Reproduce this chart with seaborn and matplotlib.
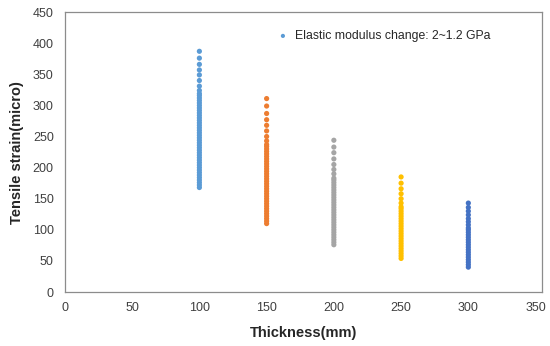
import matplotlib
matplotlib.use("Agg")
import matplotlib.pyplot as plt
import pandas as pd
import seaborn as sns

sns.set_theme(style="white")
plt.rcParams["font.family"] = ["Liberation Sans", "DejaVu Sans"]

# strain, one list per slab thickness (mm)
strain_100 = [168, 172, 176, 180, 184, 188, 192, 196, 200, 204, 208, 212, 216, 220,
              224, 228, 232, 236, 240, 244, 248, 252, 256, 260, 264, 268, 272, 276,
              280, 284, 288, 292, 296, 300, 304, 308, 312, 316, 319,
              324, 331, 340, 349, 357, 366, 376, 387]
strain_150 = [110, 114, 118, 122, 126, 130, 134, 138, 142, 146, 150, 154, 158, 162,
              166, 170, 174, 178, 182, 186, 190, 194, 198, 202, 206, 210, 214, 218,
              222, 226, 230, 234, 237,
              243, 250, 259, 268, 277, 287, 299, 311]
strain_200 = [76, 80, 84, 88, 92, 96, 100, 104, 108, 112, 116, 120, 124, 128, 132,
              136, 140, 144, 148, 152, 156, 160, 164, 168, 172, 176, 180,
              183, 190, 197, 205, 214, 224, 233, 244]
strain_250 = [54, 58, 62, 66, 70, 74, 78, 82, 86, 90, 94, 98, 102, 106, 110, 114,
              118, 122, 126, 130, 134,
              137, 143, 150, 158, 166, 175, 185]
strain_300 = [40, 44, 48, 52, 56, 60, 64, 68, 72, 76, 80, 84, 88, 92, 96, 100, 103,
              108, 113, 118, 124, 130, 136, 143]

thickness = [100, 150, 200, 250, 300]
colors = ["#5B9BD5", "#ED7D31", "#A5A5A5", "#FFC000", "#4472C4"]
series = [strain_100, strain_150, strain_200, strain_250, strain_300]

fig = plt.figure(figsize=(5.5, 3.46), dpi=100)
ax = fig.add_axes([0.118, 0.156, 0.868, 0.809])

for t, c, s in zip(thickness, colors, series):
    df = pd.DataFrame({"thickness": [t] * len(s), "strain": s})
    sns.scatterplot(data=df, x="thickness", y="strain", color=c, s=14,
                    edgecolor="none", ax=ax,
                    label="Elastic modulus change: 2~1.2 GPa" if t == 100 else None)

ax.set_xlim(0, 355)
ax.set_ylim(0, 450)
ax.set_xticks(range(0, 351, 50))
ax.set_yticks(range(0, 451, 50))
ax.tick_params(labelsize=9, colors="#404040", length=0)
ax.tick_params(axis="y", pad=8)
ax.tick_params(axis="x", pad=7)
for sp in ax.spines.values():
    sp.set_color("#8c8c8c")
    sp.set_linewidth(0.9)
ax.set_xlabel("Thickness(mm)", fontsize=10.5, fontweight="bold", labelpad=9)
ax.set_ylabel("Tensile strain(micro)", fontsize=10.5, fontweight="bold", labelpad=6)
ax.legend(loc="upper left", bbox_to_anchor=(0.408, 0.975), frameon=False,
          fontsize=8.8, handletextpad=0.0, markerscale=0.8)

fig.savefig("out.png", dpi=100)
